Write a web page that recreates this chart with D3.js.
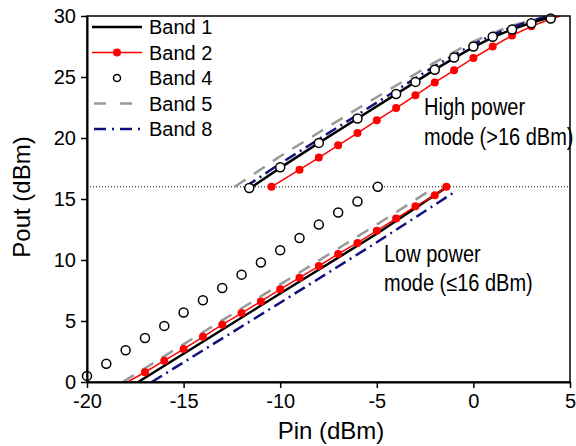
<!DOCTYPE html>
<html>
<head>
<meta charset="utf-8">
<script src="https://cdn.jsdelivr.net/npm/d3@7"></script>
<style>
  body { margin: 0; background: #fff; }
  text { font-family: Arial, "Liberation Sans", sans-serif; fill: #000; }
</style>
</head>
<body>
<div class="canvas"></div>
<script>
// Pin (dBm), Pout (dBm) pairs
const band1Low  = [[-17.35, 0], [-10, 7.25], [-5, 12.15], [-1.5, 15.85]];
const band1High = [[-11.45, 16], [-10, 17.55], [-8, 19.6], [-6, 21.6], [-4, 23.6], [-2, 25.6],
                   [-1, 26.55], [0, 27.45], [1, 28.25], [2, 28.9], [3, 29.45], [4.2, 30]];

const band2Low  = [[-17.9, 0], [-17, 0.8], [-16, 1.75], [-15, 2.7], [-14, 3.7], [-13, 4.7], [-12, 5.65],
                   [-11, 6.6], [-10, 7.6], [-9, 8.55], [-8, 9.5], [-7, 10.5], [-6, 11.4], [-5, 12.4],
                   [-4, 13.4], [-3, 14.4], [-2, 15.3], [-1.4, 16]];
const band2High = [[-10.45, 16], [-9, 17.4], [-8, 18.4], [-7, 19.4], [-6, 20.4], [-5, 21.45], [-4, 22.45],
                   [-3, 23.5], [-2, 24.55], [-1, 25.55], [0, 26.55], [1, 27.5], [2, 28.4], [3, 29.15],
                   [4, 29.75], [4.5, 30]];

const band4Low  = [[-20, 0.5], [-19, 1.5], [-18, 2.6], [-17, 3.6], [-16, 4.6], [-15, 5.7], [-14, 6.7],
                   [-13, 7.7], [-12, 8.8], [-11, 9.8], [-10, 10.8], [-9, 11.8], [-8, 12.9], [-7, 13.9],
                   [-6, 14.8], [-4.95, 16]];
const band4High = [[-11.6, 15.9], [-10, 17.6], [-8, 19.6], [-6, 21.6], [-4, 23.6], [-3, 24.6], [-2, 25.6],
                   [-1, 26.6], [0, 27.5], [1, 28.3], [2, 28.9], [3, 29.4], [4, 29.8]];

const band5Low  = [[-18.15, 0], [-10, 8.0], [-5, 12.9], [-2.15, 15.8]];
const band5High = [[-12.35, 16], [-10, 18.5], [-8, 20.45], [-6, 22.4], [-4, 24.3], [-2, 26.2],
                   [0, 27.9], [1, 28.6], [2, 29.2], [3, 29.65], [4, 30]];

const band8Low  = [[-16.65, 0], [-10, 6.5], [-5, 11.45], [-1.0, 15.55]];
const band8High = [[-11.8, 16], [-10, 17.9], [-8, 19.9], [-6, 21.9], [-4, 23.9], [-2, 25.9],
                   [0, 27.7], [1, 28.45], [2, 29.1], [3, 29.6], [3.9, 30]];

const xTicks = [-20, -15, -10, -5, 0, 5];
const yTicks = [0, 5, 10, 15, 20, 25, 30];
const modeThreshold = 16;
const legendNames = ['Band 1', 'Band 2', 'Band 4', 'Band 5', 'Band 8'];

const W = 576, H = 446;
const svg = d3.select('.canvas').append('svg')
    .attr('width', W)
    .attr('height', H);

const x = d3.scaleLinear().domain([-20, 5]).range([87, 570]);
const y = d3.scaleLinear().domain([0, 30]).range([382, 16]);

svg.append('clipPath').attr('id', 'plotclip')
  .append('rect')
    .attr('x', x(-20)).attr('y', y(30))
    .attr('width', x(5) - x(-20)).attr('height', y(0) - y(30));

const line = d3.line().x(d => x(d[0])).y(d => y(d[1]));

// dotted 16 dBm threshold
svg.append('line')
    .attr('x1', x(-20)).attr('x2', x(5))
    .attr('y1', y(modeThreshold)).attr('y2', y(modeThreshold))
    .attr('stroke', '#000')
    .attr('stroke-width', 1)
    .attr('stroke-dasharray', '1,2');

const plot = svg.append('g').attr('clip-path', 'url(#plotclip)');

const styles = {
    b1: { stroke: '#000', width: 2.5, dash: null },
    b2: { stroke: '#ff0000', width: 1.5, dash: null },
    b5: { stroke: '#999999', width: 2.5, dash: '13,10' },
    b8: { stroke: '#10107e', width: 2.5, dash: '12,5,2,5' }
};

function drawLine(data, s) {
    plot.append('path')
        .datum(data)
        .attr('d', line)
        .attr('fill', 'none')
        .attr('stroke', s.stroke)
        .attr('stroke-width', s.width)
        .attr('stroke-dasharray', s.dash);
}

drawLine(band5Low, styles.b5);
drawLine(band5High, styles.b5);
drawLine(band8Low, styles.b8);
drawLine(band8High, styles.b8);
drawLine(band1Low, styles.b1);
drawLine(band1High, styles.b1);
drawLine(band2Low, styles.b2);
drawLine(band2High, styles.b2);

// red markers (the line ends at the axis/frame have none)
const redDots = band2Low.slice(1).concat(band2High.slice(0, -1));
plot.selectAll('.reddot')
    .data(redDots)
    .enter().append('circle')
    .attr('class', 'reddot')
    .attr('cx', d => x(d[0]))
    .attr('cy', d => y(d[1]))
    .attr('r', 4)
    .attr('fill', '#ff0000');

svg.selectAll('.opendot')
    .data(band4Low.concat(band4High))
    .enter().append('circle')
    .attr('class', 'opendot')
    .attr('cx', d => x(d[0]))
    .attr('cy', d => y(d[1]))
    .attr('r', 4.5)
    .attr('fill', '#fff')
    .attr('stroke', '#000')
    .attr('stroke-width', 1.5);

// frame
svg.append('rect')
    .attr('x', x(-20)).attr('y', y(30))
    .attr('width', x(5) - x(-20)).attr('height', y(0) - y(30))
    .attr('fill', 'none')
    .attr('stroke', '#000')
    .attr('stroke-width', 1.5);

// axes (plain hyphen for negatives, like the original)
const fmt = d => String(d);
const xAxis = svg.append('g')
    .attr('transform', `translate(0,${y(0)})`)
    .call(d3.axisBottom(x).tickValues(xTicks).tickFormat(fmt).tickSize(6).tickSizeOuter(0).tickPadding(6));
const yAxis = svg.append('g')
    .attr('transform', `translate(${x(-20)},0)`)
    .call(d3.axisLeft(y).tickValues(yTicks).tickFormat(fmt).tickSize(6).tickSizeOuter(0).tickPadding(5));

[xAxis, yAxis].forEach(a => {
    a.select('.domain').attr('stroke-width', 2);
    a.selectAll('.tick line').attr('stroke-width', 1.5);
    a.selectAll('.tick text')
        .style('font-family', 'Arial, "Liberation Sans", sans-serif')
        .style('font-size', '20px')
        .attr('fill', '#000');
});

svg.append('text')
    .attr('x', 331).attr('y', 439)
    .attr('text-anchor', 'middle')
    .style('font-size', '24px')
    .text('Pin (dBm)');

svg.append('text')
    .attr('transform', 'translate(30,197) rotate(-90)')
    .attr('text-anchor', 'middle')
    .style('font-size', '24px')
    .text('Pout (dBm)');

// annotations
function note(tx, ty, str) {
    svg.append('text')
        .attr('transform', `translate(${tx},${ty}) scale(1,1.15)`)
        .style('font-size', '20px')
        .text(str);
}
note(424, 115, 'High power');
note(424, 145, 'mode (>16 dBm)');
note(384, 262, 'Low power');
note(384, 291, 'mode (\u226416 dBm)');

// legend
const legendY = d3.scalePoint().domain(legendNames).range([27, 129]);
const lx1 = 92, lx2 = 142;
const legend = svg.append('g');

legendNames.forEach(name => {
    const ly = legendY(name);
    if (name === 'Band 1') {
        legend.append('line').attr('x1', lx1).attr('x2', lx2).attr('y1', ly).attr('y2', ly)
            .attr('stroke', styles.b1.stroke).attr('stroke-width', styles.b1.width);
    } else if (name === 'Band 2') {
        legend.append('line').attr('x1', lx1).attr('x2', lx2).attr('y1', ly).attr('y2', ly)
            .attr('stroke', styles.b2.stroke).attr('stroke-width', styles.b2.width);
        legend.append('circle').attr('cx', (lx1 + lx2) / 2).attr('cy', ly).attr('r', 4).attr('fill', '#ff0000');
    } else if (name === 'Band 4') {
        legend.append('circle').attr('cx', (lx1 + lx2) / 2).attr('cy', ly).attr('r', 3.5)
            .attr('fill', '#fff').attr('stroke', '#000').attr('stroke-width', 1.5);
    } else if (name === 'Band 5') {
        legend.append('line').attr('x1', lx1 + 2).attr('x2', lx2).attr('y1', ly).attr('y2', ly)
            .attr('stroke', styles.b5.stroke).attr('stroke-width', styles.b5.width)
            .attr('stroke-dasharray', '12,14');
    } else {
        legend.append('line').attr('x1', lx1 + 2).attr('x2', lx2).attr('y1', ly).attr('y2', ly)
            .attr('stroke', styles.b8.stroke).attr('stroke-width', styles.b8.width)
            .attr('stroke-dasharray', '12,6,2,6');
    }
    legend.append('text')
        .attr('x', 149).attr('y', ly + 7)
        .style('font-size', '20px')
        .text(name);
});
</script>
</body>
</html>
